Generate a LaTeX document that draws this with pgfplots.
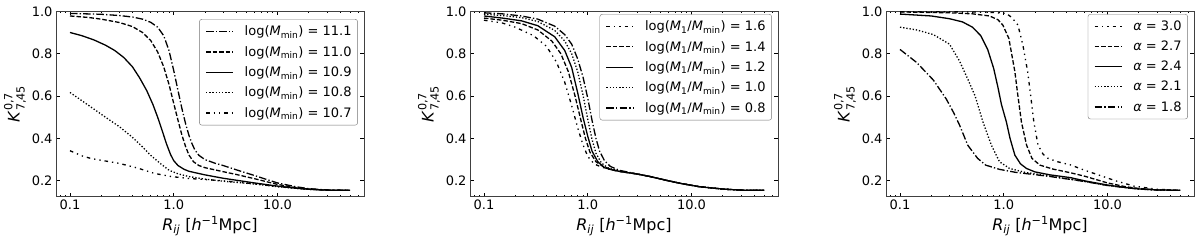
\documentclass[border=0pt]{standalone}
\usepackage{fontspec}
\setmainfont{DejaVu Sans}
\usepackage{amsmath}
\usepackage{pgfplots}
\pgfplotsset{compat=1.18}

\tikzset{
 lsdashdot/.style={dash pattern=on 7.5pt off 2.2pt on 1.3pt off 2.2pt},
 lsdashed/.style={dash pattern=on 4.5pt off 2pt},
 lsdotted/.style={dash pattern=on 1.3pt off 1.9pt},
 lsdashdotdot/.style={dash pattern=on 3.5pt off 4pt on 1.3pt off 4pt on 1.3pt off 4pt},
}

\pgfplotsset{
 panel/.style={
  scale only axis, width=308pt, height=185.4pt,
  xmin=0.0733, xmax=68.2, ymin=0.125, ymax=1.0,
  xtick={0.1,1,10}, xticklabels={0.1,1.0,10.0},
  minor xtick={0.08,0.09,0.2,0.3,0.4,0.5,0.6,0.7,0.8,0.9,2,3,4,5,6,7,8,9,20,30,40,50,60},
  ytick={0.2,0.4,0.6,0.8,1.0}, yticklabels={0.2,0.4,0.6,0.8,1.0},
  tick label style={font=\fontsize{13}{15}\selectfont},
  major tick length=4pt, minor tick length=2pt,
  tick style={black, line width=0.8pt},
  axis line style={black!75, line width=0.8pt},
  xlabel={\textit{R}$_{\text{\itshape ij}}$ [\textit{h}$^{\text{−1}}$Mpc]},
  ylabel={\textit{K}$^{\text{0,7}}_{\text{7,45}}$},
  label style={font=\fontsize{16}{19}\selectfont},
  x label style={at={(axis description cs:0.5,-0.157)}, anchor=center},
  y label style={at={(axis description cs:-0.133,0.5)}, anchor=center},
  legend style={anchor=north east, draw=black!55, rounded corners=2.5pt,
    font=\fontsize{13}{15}\selectfont, cells={anchor=west},
    nodes={inner sep=0pt}, row sep=9pt,
    column sep=11pt, inner xsep=6pt, inner ysep=6.5pt},
  legend image code/.code={\draw[##1, line width=1.3pt] (0pt,0pt) -- (27pt,0pt);},
  every axis plot/.append style={black, line width=1.3pt},
 }
}

\begin{document}
\begin{tikzpicture}
\path[use as bounding box] (0,0) rectangle (1200pt,242pt);

% ---------------- Panel 1 ----------------
\begin{semilogxaxis}[panel, at={(56pt,45.3pt)}, anchor=south west,
  legend style={at={(0.98,0.958)}}]
\addplot[lsdashdot] coordinates {
(0.1,0.99) (0.2,0.986) (0.3,0.98) (0.4,0.973) (0.5,0.963) (0.6,0.948) (0.7,0.925) (0.8,0.885) (0.9,0.815) (1.0,0.72) (1.1,0.625) (1.2,0.54) (1.3,0.47) (1.4,0.415) (1.5,0.375) (1.6,0.345) (1.75,0.32) (2.0,0.3) (2.5,0.283) (3.0,0.272) (4.0,0.252) (6.0,0.225) (8.0,0.205) (10,0.19) (15,0.172) (20,0.163) (30,0.157) (50,0.155)};
\addlegendentry{log(\textit{M}$_{\text{min}}$) = 11.1}
\addplot[lsdashed] coordinates {
(0.1,0.978) (0.15,0.971) (0.2,0.963) (0.3,0.947) (0.4,0.928) (0.5,0.9) (0.6,0.862) (0.7,0.808) (0.8,0.738) (0.9,0.655) (1.0,0.565) (1.1,0.485) (1.2,0.415) (1.3,0.362) (1.4,0.322) (1.55,0.29) (1.75,0.272) (2.0,0.262) (3.0,0.243) (4.0,0.23) (6.0,0.21) (10,0.183) (15,0.168) (20,0.161) (30,0.156) (50,0.155)};
\addlegendentry{log(\textit{M}$_{\text{min}}$) = 11.0}
\addplot[solid] coordinates {
(0.1,0.9) (0.13,0.885) (0.17,0.865) (0.22,0.84) (0.27,0.815) (0.33,0.782) (0.4,0.738) (0.47,0.685) (0.55,0.625) (0.63,0.56) (0.7,0.5) (0.77,0.44) (0.85,0.375) (0.93,0.325) (1.0,0.295) (1.1,0.272) (1.25,0.255) (1.4,0.245) (2.0,0.228) (3.0,0.212) (6.0,0.19) (10,0.175) (15,0.165) (20,0.16) (30,0.156) (50,0.155)};
\addlegendentry{log(\textit{M}$_{\text{min}}$) = 10.9}
\addplot[lsdotted] coordinates {
(0.1,0.617) (0.15,0.557) (0.22,0.5) (0.3,0.455) (0.4,0.405) (0.5,0.36) (0.6,0.32) (0.75,0.28) (0.9,0.25) (1.1,0.233) (1.4,0.22) (2.0,0.208) (3.0,0.198) (6.0,0.185) (10,0.172) (20,0.16) (30,0.156) (50,0.155)};
\addlegendentry{log(\textit{M}$_{\text{min}}$) = 10.8}
\addplot[lsdashdotdot] coordinates {
(0.1,0.342) (0.13,0.318) (0.16,0.305) (0.2,0.297) (0.3,0.282) (0.45,0.26) (0.65,0.235) (0.95,0.22) (1.4,0.211) (2.0,0.206) (3.0,0.2) (6.0,0.186) (10,0.173) (20,0.16) (30,0.156) (50,0.155)};
\addlegendentry{log(\textit{M}$_{\text{min}}$) = 10.7}
\end{semilogxaxis}

% ---------------- Panel 2 ----------------
\begin{semilogxaxis}[panel, at={(470pt,45.3pt)}, anchor=south west,
  legend style={at={(0.98,0.985)}}]
\addplot[lsdashdotdot] coordinates {
(0.1,0.958) (0.15,0.945) (0.2,0.925) (0.3,0.885) (0.4,0.835) (0.5,0.76) (0.6,0.665) (0.7,0.555) (0.8,0.45) (0.9,0.37) (1.0,0.315) (1.15,0.28) (1.35,0.265) (1.7,0.252) (2.1,0.243) (3.0,0.232) (4.0,0.22) (6.0,0.2) (8.0,0.187) (12,0.172) (20,0.161) (30,0.156) (50,0.155)};
\addlegendentry{log(\textit{M}$_{\text{1}}$/\textit{M}$_{\text{min}}$) = 1.6}
\addplot[lsdashed] coordinates {
(0.1,0.968) (0.15,0.958) (0.23,0.942) (0.33,0.912) (0.45,0.86) (0.55,0.8) (0.65,0.715) (0.75,0.605) (0.85,0.495) (0.95,0.4) (1.05,0.335) (1.2,0.29) (1.4,0.268) (1.7,0.252) (2.1,0.243) (3.0,0.232) (4.0,0.22) (6.0,0.2) (8.0,0.187) (12,0.172) (20,0.161) (30,0.156) (50,0.155)};
\addlegendentry{log(\textit{M}$_{\text{1}}$/\textit{M}$_{\text{min}}$) = 1.4}
\addplot[solid] coordinates {
(0.1,0.978) (0.15,0.968) (0.23,0.955) (0.33,0.932) (0.48,0.88) (0.6,0.815) (0.7,0.735) (0.8,0.615) (0.9,0.5) (1.0,0.41) (1.1,0.34) (1.25,0.29) (1.45,0.262) (1.7,0.252) (2.1,0.243) (3.0,0.232) (4.0,0.22) (6.0,0.2) (8.0,0.187) (12,0.172) (20,0.161) (30,0.156) (50,0.155)};
\addlegendentry{log(\textit{M}$_{\text{1}}$/\textit{M}$_{\text{min}}$) = 1.2}
\addplot[lsdotted] coordinates {
(0.1,0.987) (0.15,0.98) (0.23,0.97) (0.33,0.952) (0.48,0.91) (0.6,0.86) (0.7,0.8) (0.8,0.715) (0.9,0.605) (1.0,0.49) (1.1,0.395) (1.2,0.33) (1.35,0.285) (1.55,0.262) (1.8,0.252) (2.1,0.244) (3.0,0.232) (4.0,0.22) (6.0,0.2) (8.0,0.187) (12,0.172) (20,0.161) (30,0.156) (50,0.155)};
\addlegendentry{log(\textit{M}$_{\text{1}}$/\textit{M}$_{\text{min}}$) = 1.0}
\addplot[lsdashdot] coordinates {
(0.1,0.993) (0.15,0.988) (0.23,0.978) (0.33,0.963) (0.48,0.93) (0.6,0.89) (0.7,0.845) (0.8,0.775) (0.9,0.69) (1.0,0.59) (1.1,0.485) (1.2,0.4) (1.3,0.34) (1.45,0.295) (1.65,0.268) (2.0,0.25) (2.5,0.24) (3.0,0.232) (4.0,0.22) (6.0,0.2) (8.0,0.187) (12,0.172) (20,0.161) (30,0.156) (50,0.155)};
\addlegendentry{log(\textit{M}$_{\text{1}}$/\textit{M}$_{\text{min}}$) = 0.8}
\end{semilogxaxis}

% ---------------- Panel 3 ----------------
\begin{semilogxaxis}[panel, at={(886pt,45.3pt)}, anchor=south west,
  legend style={at={(0.98,0.985)}}]
\addplot[lsdashdotdot] coordinates {
(0.1,0.998) (0.5,0.997) (0.8,0.994) (1.06,0.99) (1.2,0.97) (1.37,0.935) (1.53,0.84) (1.7,0.715) (1.82,0.6) (1.95,0.478) (2.14,0.368) (2.4,0.325) (2.67,0.306) (3.3,0.29) (4.4,0.275) (6.0,0.25) (8.5,0.225) (12,0.2) (18,0.175) (30,0.16) (50,0.155)};
\addlegendentry{\textit{α} = 3.0}
\addplot[lsdashed] coordinates {
(0.1,0.997) (0.3,0.993) (0.5,0.988) (0.73,0.978) (0.88,0.96) (0.98,0.935) (1.12,0.872) (1.28,0.715) (1.37,0.6) (1.48,0.478) (1.66,0.368) (1.87,0.306) (2.23,0.274) (3.0,0.255) (4.4,0.238) (6.0,0.222) (10,0.19) (15,0.172) (20,0.164) (30,0.157) (50,0.155)};
\addlegendentry{\textit{α} = 2.7}
\addplot[solid] coordinates {
(0.1,0.987) (0.2,0.978) (0.3,0.965) (0.4,0.95) (0.5,0.925) (0.6,0.885) (0.7,0.82) (0.8,0.73) (0.88,0.64) (0.95,0.56) (1.06,0.478) (1.15,0.4) (1.28,0.321) (1.45,0.28) (1.66,0.258) (2.0,0.242) (2.8,0.228) (4.4,0.215) (6.0,0.2) (10,0.18) (15,0.168) (20,0.162) (30,0.157) (50,0.155)};
\addlegendentry{\textit{α} = 2.4}
\addplot[lsdotted] coordinates {
(0.1,0.925) (0.145,0.912) (0.21,0.89) (0.3,0.845) (0.375,0.765) (0.45,0.68) (0.53,0.6) (0.63,0.478) (0.76,0.368) (0.91,0.29) (1.14,0.258) (1.6,0.24) (2.8,0.222) (6.0,0.197) (10,0.178) (20,0.161) (30,0.157) (50,0.155)};
\addlegendentry{\textit{α} = 2.1}
\addplot[lsdashdot] coordinates {
(0.1,0.82) (0.145,0.758) (0.21,0.675) (0.28,0.585) (0.33,0.52) (0.375,0.463) (0.45,0.368) (0.56,0.306) (0.67,0.274) (0.91,0.254) (1.3,0.24) (2.83,0.22) (6.0,0.197) (10,0.178) (20,0.161) (30,0.157) (50,0.155)};
\addlegendentry{\textit{α} = 1.8}
\end{semilogxaxis}
\end{tikzpicture}
\end{document}
